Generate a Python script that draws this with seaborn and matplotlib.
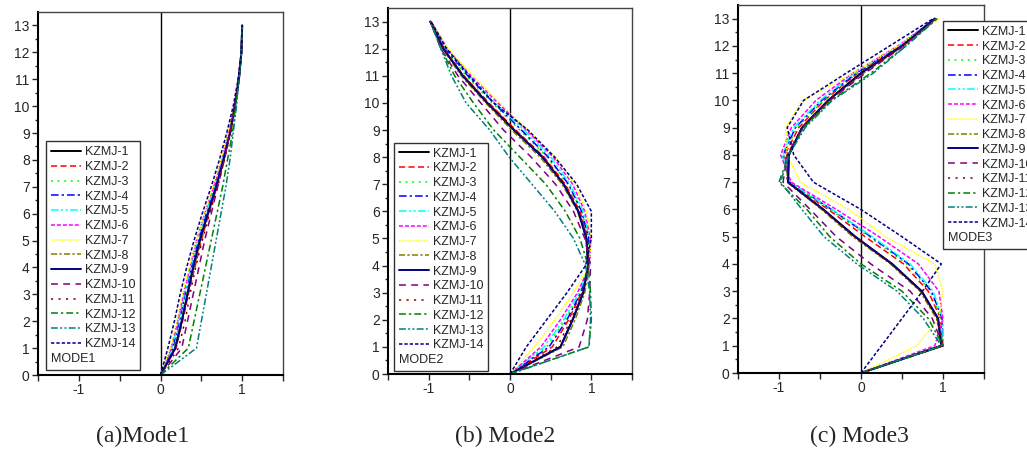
import numpy as np
import pandas as pd
import matplotlib
matplotlib.use("Agg")
import matplotlib.pyplot as plt
import seaborn as sns

sns.set_style("white")
plt.rcParams['font.family'] = ['Liberation Sans', 'DejaVu Sans']

stories = list(range(14))
series_names = [f"KZMJ-{i}" for i in range(1, 15)]
mode_titles = ["MODE1", "MODE2", "MODE3"]
captions = ["(a)Mode1", "(b) Mode2", "(c) Mode3"]
x_ticks = [-1, 0, 1]
y_ticks = list(range(14))

# normalized modal displacement per storey (storey 0..13), one row per model
mode1 = [
    [0, .18, .26, .33, .40, .48, .58, .68, .77, .85, .91, .96, .99, 1.0],
    [0, .19, .27, .34, .42, .50, .59, .69, .78, .85, .91, .96, .99, 1.0],
    [0, .16, .24, .31, .39, .47, .57, .67, .76, .84, .91, .96, .99, 1.0],
    [0, .15, .23, .30, .38, .46, .56, .66, .76, .84, .91, .96, .99, 1.0],
    [0, .14, .22, .29, .37, .45, .55, .66, .75, .84, .91, .96, .99, 1.0],
    [0, .13, .21, .28, .36, .44, .54, .65, .75, .83, .90, .96, .99, 1.0],
    [0, .12, .20, .27, .35, .44, .54, .64, .74, .83, .90, .96, .99, 1.0],
    [0, .18, .26, .33, .41, .49, .58, .68, .77, .85, .91, .96, .99, 1.0],
    [0, .18, .26, .33, .40, .48, .58, .68, .77, .85, .91, .96, .99, 1.0],
    [0, .26, .33, .40, .47, .54, .62, .70, .78, .85, .91, .95, .99, 1.0],
    [0, .22, .30, .36, .43, .51, .60, .70, .78, .86, .92, .96, .99, 1.0],
    [0, .34, .41, .48, .55, .62, .69, .76, .82, .88, .92, .96, .99, 1.0],
    [0, .44, .50, .56, .62, .68, .74, .80, .85, .89, .93, .96, .99, 1.0],
    [0, .09, .17, .24, .32, .41, .51, .62, .72, .81, .89, .95, .99, 1.0],
]

mode2 = [
    [0, .62, .77, .90, .96, .94, .84, .66, .40, .05, -.28, -.58, -.82, -.98],
    [0, .52, .72, .88, .97, .96, .86, .68, .42, .07, -.26, -.57, -.82, -.98],
    [0, .45, .68, .86, .97, .97, .88, .71, .46, .12, -.22, -.54, -.80, -.98],
    [0, .48, .70, .87, .97, .97, .88, .72, .47, .14, -.20, -.52, -.79, -.97],
    [0, .42, .66, .85, .98, .98, .90, .74, .50, .17, -.18, -.50, -.78, -.97],
    [0, .38, .62, .83, .98, .99, .92, .77, .53, .20, -.15, -.48, -.77, -.97],
    [0, .30, .55, .78, .97, 1.0, .94, .80, .56, .22, -.12, -.46, -.76, -.97],
    [0, .65, .80, .92, .97, .94, .83, .64, .37, .02, -.30, -.60, -.83, -.98],
    [0, .62, .77, .90, .96, .94, .84, .66, .40, .05, -.28, -.58, -.82, -.98],
    [0, .85, .95, .98, .99, .92, .78, .56, .26, -.08, -.36, -.64, -.85, -.98],
    [0, .58, .75, .89, .96, .95, .85, .67, .41, .06, -.27, -.57, -.81, -.98],
    [0, .97, 1.0, .99, .96, .86, .68, .44, .12, -.20, -.45, -.68, -.85, -.98],
    [0, .97, .99, .98, .93, .78, .55, .27, -.01, -.25, -.54, -.72, -.85, -.98],
    [0, .20, .45, .70, .93, 1.0, 1.0, .82, .55, .22, -.20, -.50, -.78, -.97],
]

mode3 = [
    [0, .98, .94, .74, .38, -.07, -.46, -.89, -.88, -.72, -.40, .00, .50, .90],
    [0, 1.0, .97, .82, .52, .05, -.40, -.88, -.93, -.76, -.45, -.04, .48, .90],
    [0, .99, .98, .85, .56, .10, -.38, -.88, -.94, -.78, -.46, -.05, .47, .90],
    [0, 1.0, .99, .86, .58, .12, -.36, -.87, -.95, -.80, -.48, -.06, .47, .90],
    [0, 1.0, 1.0, .88, .60, .14, -.35, -.87, -.96, -.82, -.50, -.08, .46, .90],
    [0, .90, 1.0, .95, .70, .22, -.30, -.85, -.98, -.85, -.55, -.10, .45, .92],
    [0, .68, .95, 1.0, .90, .30, -.15, -.74, -.90, -.92, -.72, -.10, .45, .95],
    [0, 1.0, .92, .72, .36, -.10, -.48, -.90, -.90, -.70, -.38, .03, .52, .92],
    [0, .98, .94, .74, .38, -.07, -.46, -.89, -.88, -.72, -.40, .00, .50, .90],
    [0, 1.0, .87, .60, .12, -.30, -.62, -.95, -.90, -.72, -.38, .05, .52, .92],
    [0, 1.0, .93, .73, .37, -.08, -.47, -.90, -.90, -.72, -.40, .02, .50, .90],
    [0, 1.0, .82, .50, .00, -.38, -.66, -1.0, -.88, -.70, -.36, .12, .55, .93],
    [0, .98, .76, .44, -.05, -.45, -.72, -.98, -.88, -.68, -.35, .15, .55, .92],
    [0, .25, .50, .75, .98, .50, .00, -.58, -.82, -.90, -.70, -.18, .35, .88],
]

colors = ["#000000", "#ff0000", "#00ff00", "#0000ff", "#00ffff", "#ff00ff",
          "#ffff00", "#808000", "#000080", "#800080", "#800000", "#008000",
          "#008080", "#000080"]
dash_styles = ["", (4, 2.2), (1.3, 3), (5, 2, 1.5, 2), (5, 1.5, 1.5, 1.5, 1.5, 1.5),
               (2.6, 1.3), (1, 0.8), (4, 1.5, 1.5, 1.5), "", (4.5, 3.5), (1.4, 3.5),
               (4.5, 2, 1.5, 2), (4.5, 1.5, 1.3, 1.5, 1.3, 1.5), (2.2, 1.3)]
widths = [1.4, 1.1, 1.1, 1.1, 1.1, 1.1, 1.1, 1.1, 1.4, 1.1, 1.1, 1.1, 1.1, 1.1]

fig = plt.figure(figsize=(10.27, 4.57), dpi=100)
axes_rects = [
    [0.0370, 0.1794, 0.2386, 0.7943],
    [0.3778, 0.1816, 0.2376, 0.8009],
    [0.7186, 0.1838, 0.2395, 0.8052],
]
legend_anchor = [((0.033, 0.014), "lower left"),
                 ((0.025, 0.008), "lower left"),
                 ((0.833, 0.957), "upper left")]
caption_x = [0.139, 0.492, 0.837]

for k, mode in enumerate([mode1, mode2, mode3]):
    ax = fig.add_axes(axes_rects[k])
    rows = []
    for name, vals in zip(series_names, mode):
        for s, v in zip(stories, vals):
            rows.append({"series": name, "storey": s, "disp": v})
    df = pd.DataFrame(rows)
    ax.axvline(0, color="black", lw=1.0, zorder=1)
    sns.lineplot(data=df, x="disp", y="storey", hue="series", style="series",
                 hue_order=series_names, style_order=series_names,
                 palette=dict(zip(series_names, colors)),
                 dashes=dict(zip(series_names, dash_styles)),
                 size="series", sizes=dict(zip(series_names, widths)),
                 size_order=series_names,
                 estimator=None, orient="y", sort=True, legend=False, ax=ax)
    lines = ax.lines[1:15]
    ax.set_xlim(-1.5, 1.5)
    ax.set_ylim(0, 13.5)
    ax.set_xticks(x_ticks)
    ax.set_xticks([-1.5, -0.5, 0.5, 1.5], minor=True)
    ax.set_yticks(y_ticks)
    ax.set_yticks(np.arange(0.5, 13.5, 1.0), minor=True)
    ax.set_xticklabels([str(t) for t in x_ticks])
    ax.set_xlabel("")
    ax.set_ylabel("")
    ax.tick_params(axis="both", which="major", direction="out", length=4,
                   width=1, labelsize=10, pad=2, left=True, bottom=True)
    ax.tick_params(axis="x", which="minor", direction="out", length=4, width=1, bottom=True)
    ax.tick_params(axis="y", which="minor", direction="out", length=2, width=1, left=True)
    for side in ["left", "bottom"]:
        ax.spines[side].set_color("black")
        ax.spines[side].set_linewidth(1.5)
    for side in ["top", "right"]:
        ax.spines[side].set_color("#444444")
        ax.spines[side].set_linewidth(1.0)
    anchor, loc = legend_anchor[k]
    leg = ax.legend(handles=lines, labels=series_names, loc=loc,
                    bbox_to_anchor=anchor, borderaxespad=0, fontsize=9,
                    title=mode_titles[k], title_fontsize=9, alignment="left",
                    handlelength=2.4, handletextpad=0.3, labelspacing=0.22,
                    borderpad=0.4, fancybox=False, framealpha=1,
                    edgecolor="#333333")
    leg.get_frame().set_linewidth(1.0)
    leg._legend_box._children = [leg._legend_handle_box, leg._legend_title_box]
    fig.text(caption_x[k], 0.045, captions[k], ha="center", va="center",
             fontsize=17, family="Liberation Serif")

fig.savefig("out.png", dpi=100)
